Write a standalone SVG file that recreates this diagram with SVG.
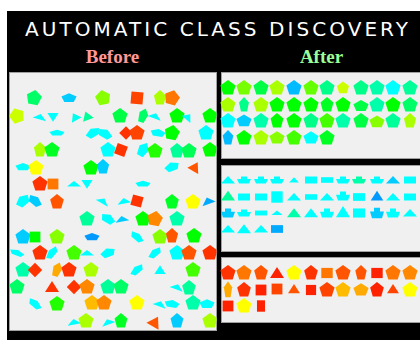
<svg xmlns="http://www.w3.org/2000/svg" xmlns:xlink="http://www.w3.org/1999/xlink" width="420" height="340" viewBox="0 0 420 340">
<style>
.title{font-family:"DejaVu Sans","Liberation Sans",sans-serif;font-size:20px;fill:#ffffff}
.sub{font-family:"Liberation Serif","DejaVu Serif",serif;font-size:19px;font-weight:bold}
.panel{fill:#f0f0f0;stroke:#a0a0a0;stroke-width:1}
</style>
<defs>
<path id="p" d="M0,-8 L7.6,-2.5 L4.7,6.5 L-4.7,6.5 L-7.6,-2.5 Z"/>
<path id="t" d="M0,-6 L7,5 L-7,5 Z"/>
<rect id="s" x="-6" y="-6" width="12" height="12"/>
<rect id="r" x="-6" y="-3.5" width="12" height="7"/>
<path id="b" d="M-7,-1 L-3,-1 L-3,-3.5 L3,-3.5 L3,-1 L7,-1 L5,3.5 L-5,3.5 Z"/>
<path id="ft" d="M0,-4 L7,3.5 L-7,3.5 Z"/>
<clipPath id="lc"><rect x="9.5" y="72.5" width="207" height="258"/></clipPath>
</defs>
<rect x="0" y="0" width="420" height="340" fill="#ffffff"/>
<rect x="7" y="11" width="413" height="329" fill="#000000"/>
<text class="title" x="25" y="36" textLength="383" lengthAdjust="spacing">AUTOMATIC CLASS DISCOVERY</text>
<text class="sub" x="112.5" y="63" text-anchor="middle" fill="#ff9999">Before</text>
<text class="sub" x="321.5" y="63" text-anchor="middle" fill="#99ff99">After</text>

<g id="before">
<rect class="panel" x="9.5" y="72.5" width="207" height="258"/>
<g clip-path="url(#lc)">
<use href="#p" transform="translate(34,98) rotate(10)" fill="#00ff66"/>
<use href="#p" transform="translate(69,98) scale(1,0.6)" fill="#00ccff"/>
<use href="#p" transform="translate(103,98) rotate(-10)" fill="#88ff00"/>
<use href="#s" transform="translate(137,98) rotate(5)" fill="#ff4400"/>
<use href="#p" transform="translate(160,98) scale(0.8,1)" fill="#aaff00"/>
<use href="#p" transform="translate(172,98) rotate(15)" fill="#ff7700"/>
<use href="#p" transform="translate(17,116) rotate(-20)" fill="#ccff00"/>
<use href="#t" transform="translate(40,117) rotate(15) scale(1,0.5)" fill="#00ffff"/>
<use href="#t" transform="translate(53,117) rotate(180) scale(0.8)" fill="#00ffff"/>
<use href="#t" transform="translate(75,117) rotate(-30) scale(0.8,0.7)" fill="#00ffee"/>
<use href="#t" transform="translate(87,116) rotate(-20) scale(0.8)" fill="#00ff99"/>
<use href="#p" transform="translate(120,116)" fill="#00ff44"/>
<use href="#p" transform="translate(143,116) rotate(20) scale(0.6,1)" fill="#00ff66"/>
<use href="#t" transform="translate(155,116) rotate(20) scale(1,0.5)" fill="#00ffff"/>
<use href="#p" transform="translate(177,116)" fill="#00ff00"/>
<use href="#t" transform="translate(188,117) rotate(40) scale(0.8,0.6)" fill="#00ffff"/>
<use href="#p" transform="translate(210,116)" fill="#00ff00"/>
<use href="#p" transform="translate(57,133) scale(1,0.4)" fill="#00ffff"/>
<use href="#p" transform="translate(93,133) rotate(-30) scale(1,0.6)" fill="#00ffff"/>
<use href="#p" transform="translate(105,134) rotate(30) scale(1,0.6)" fill="#00ffff"/>
<use href="#s" transform="translate(126,133) rotate(45) scale(0.8)" fill="#ff3300"/>
<use href="#p" transform="translate(137,133)" fill="#ff4400"/>
<use href="#p" transform="translate(158,133) rotate(10) scale(1,0.5)" fill="#00ffff"/>
<use href="#p" transform="translate(172,133) rotate(10)" fill="#00ff00"/>
<use href="#p" transform="translate(206,133)" fill="#00ffff"/>
<use href="#p" transform="translate(40,150) scale(0.8,1)" fill="#aaff00"/>
<use href="#p" transform="translate(52,150)" fill="#00ff22"/>
<use href="#p" transform="translate(108,150)" fill="#00ffff"/>
<use href="#s" transform="translate(121,150) rotate(20) scale(0.9)" fill="#ff3300"/>
<use href="#p" transform="translate(143,150) rotate(30) scale(0.7,1)" fill="#00ffff"/>
<use href="#p" transform="translate(155,151)" fill="#22ff00"/>
<use href="#p" transform="translate(177,151) scale(0.9,1)" fill="#00ff99"/>
<use href="#p" transform="translate(189,151)" fill="#00ff55"/>
<use href="#p" transform="translate(210,150)" fill="#00ff00"/>
<use href="#p" transform="translate(23,167) scale(1,0.5)" fill="#00ffff"/>
<use href="#p" transform="translate(36,168)" fill="#ffff00"/>
<use href="#p" transform="translate(91,168)" fill="#00ff00"/>
<use href="#p" transform="translate(103,167) scale(0.8,1)" fill="#00ccff"/>
<use href="#p" transform="translate(172,167) rotate(-20) scale(1,0.6)" fill="#00ffff"/>
<use href="#t" transform="translate(195,167) rotate(30) scale(0.9)" fill="#ff5500"/>
<use href="#p" transform="translate(40,184)" fill="#ff3300"/>
<use href="#s" transform="translate(53,184) scale(0.9)" fill="#ff7700"/>
<use href="#t" transform="translate(74,184) scale(1,0.5)" fill="#00ffff"/>
<use href="#t" transform="translate(87,184) rotate(180) scale(0.8)" fill="#00ffff"/>
<use href="#p" transform="translate(143,184) scale(1,0.4)" fill="#00ffff"/>
<use href="#p" transform="translate(23,201) rotate(-40) scale(1,0.7)" fill="#00ffff"/>
<use href="#p" transform="translate(35,201) rotate(40) scale(1,0.6)" fill="#00ccff"/>
<use href="#p" transform="translate(57,202) scale(0.9,1)" fill="#ff5500"/>
<use href="#t" transform="translate(103,201) rotate(30) scale(1,0.5)" fill="#00ffff"/>
<use href="#t" transform="translate(124,201) rotate(-10) scale(1,0.5)" fill="#00ffff"/>
<use href="#s" transform="translate(137,201) rotate(15) scale(0.9)" fill="#ff3300"/>
<use href="#p" transform="translate(172,202) scale(0.9,1)" fill="#00ff22"/>
<use href="#p" transform="translate(193,202)" fill="#ffff00"/>
<use href="#t" transform="translate(208,201) rotate(-20) scale(1,0.6)" fill="#00aaff"/>
<use href="#p" transform="translate(87,219)" fill="#00ff99"/>
<use href="#p" transform="translate(108,219) rotate(30) scale(1,0.6)" fill="#00ffff"/>
<use href="#t" transform="translate(122,219) rotate(-10) scale(1,0.5)" fill="#00ccff"/>
<use href="#p" transform="translate(143,219)" fill="#00ff00"/>
<use href="#p" transform="translate(155,219) rotate(10)" fill="#ff8800"/>
<use href="#p" transform="translate(177,219)" fill="#00ffaa"/>
<use href="#p" transform="translate(23,237)" fill="#00ccff"/>
<use href="#s" transform="translate(35,237) scale(0.9)" fill="#00ff00"/>
<use href="#p" transform="translate(57,237)" fill="#88ff00"/>
<use href="#p" transform="translate(92,237) scale(1,0.5)" fill="#0099ff"/>
<use href="#p" transform="translate(137,237) rotate(40) scale(1,0.5)" fill="#00ffff"/>
<use href="#p" transform="translate(160,237)" fill="#88ff00"/>
<use href="#p" transform="translate(172,236) scale(0.8,1)" fill="#ff5500"/>
<use href="#p" transform="translate(194,236)" fill="#00ff00"/>
<use href="#p" transform="translate(17,253) rotate(20) scale(1,0.4)" fill="#00ffff"/>
<use href="#p" transform="translate(40,253)" fill="#ff3300"/>
<use href="#p" transform="translate(52,253) rotate(-50) scale(1,0.5)" fill="#00ffff"/>
<use href="#p" transform="translate(74,253)" fill="#44ff00"/>
<use href="#t" transform="translate(87,253) scale(1,0.5)" fill="#00ffff"/>
<use href="#p" transform="translate(108,253) rotate(-20) scale(1,0.6)" fill="#00ffff"/>
<use href="#p" transform="translate(155,253) rotate(-40) scale(1,0.5)" fill="#00ffff"/>
<use href="#p" transform="translate(177,253)" fill="#00ffff"/>
<use href="#p" transform="translate(189,253)" fill="#ff5500"/>
<use href="#p" transform="translate(210,253)" fill="#ff3300"/>
<use href="#p" transform="translate(23,270)" fill="#00ffaa"/>
<use href="#s" transform="translate(35,270) rotate(45) scale(0.85)" fill="#ff3300"/>
<use href="#p" transform="translate(57,270) rotate(20) scale(0.6,1)" fill="#ffaa00"/>
<use href="#p" transform="translate(69,270)" fill="#ff3300"/>
<use href="#p" transform="translate(91,270)" fill="#aaff00"/>
<use href="#p" transform="translate(137,270) rotate(-40) scale(1,0.5)" fill="#00ffff"/>
<use href="#t" transform="translate(160,270) scale(0.8)" fill="#00ffff"/>
<use href="#p" transform="translate(193,270)" fill="#44ff00"/>
<use href="#p" transform="translate(17,287)" fill="#00ff66"/>
<use href="#t" transform="translate(52,287)" fill="#ff3300"/>
<use href="#s" transform="translate(74,287) rotate(45) scale(0.85)" fill="#ff3300"/>
<use href="#p" transform="translate(87,287)" fill="#ff8800"/>
<use href="#p" transform="translate(108,287)" fill="#00ff99"/>
<use href="#p" transform="translate(121,287)" fill="#00ff66"/>
<use href="#t" transform="translate(177,287) rotate(20) scale(1,0.5)" fill="#00ffff"/>
<use href="#p" transform="translate(189,288) scale(0.9,1)" fill="#00ff99"/>
<use href="#p" transform="translate(35,304) rotate(40) scale(1,0.5)" fill="#00ffff"/>
<use href="#p" transform="translate(57,304)" fill="#22ff00"/>
<use href="#p" transform="translate(92,303)" fill="#ffbb00"/>
<use href="#p" transform="translate(104,303)" fill="#ff8800"/>
<use href="#p" transform="translate(137,303)" fill="#ffff00"/>
<use href="#t" transform="translate(160,304) rotate(20) scale(1,0.5)" fill="#00ffff"/>
<use href="#p" transform="translate(172,304) rotate(10) scale(1,0.5)" fill="#00ffff"/>
<use href="#p" transform="translate(193,303)" fill="#00ffaa"/>
<use href="#p" transform="translate(207,304) scale(1,0.6)" fill="#00ffff"/>
<use href="#t" transform="translate(74,322) rotate(-10) scale(1,0.5)" fill="#00ffff"/>
<use href="#p" transform="translate(86,321)" fill="#aaff00"/>
<use href="#t" transform="translate(108,322) rotate(-20) scale(1,0.5)" fill="#00ffff"/>
<use href="#p" transform="translate(121,321) scale(0.85,1)" fill="#00ff22"/>
<use href="#t" transform="translate(155,322) rotate(30)" fill="#ff5500"/>
<use href="#p" transform="translate(177,321) scale(0.85,1)" fill="#00ccff"/>
<use href="#p" transform="translate(210,321)" fill="#aaff00"/>
</g>
</g>

<g id="class-green">
<rect class="panel" x="221.5" y="72.5" width="199" height="86"/>
<use href="#p" x="228" y="88" fill="#00ff00"/>
<use href="#p" x="244" y="88" fill="#77ff00"/>
<use href="#p" x="261" y="88" fill="#00ff44"/>
<use href="#p" x="277" y="88" fill="#aaff00"/>
<use href="#p" x="294" y="88" fill="#00bbff"/>
<use href="#p" x="311" y="88" fill="#66ff00"/>
<use href="#p" x="327" y="88" fill="#00ff88"/>
<use href="#p" transform="translate(343,88) scale(0.8)" fill="#ccff00"/>
<use href="#p" x="361" y="88" fill="#00ff88"/>
<use href="#p" x="377" y="88" fill="#00ffaa"/>
<use href="#p" x="393" y="88" fill="#00ffff"/>
<use href="#p" x="410" y="88" fill="#00ff99"/>
<use href="#p" x="228" y="105" fill="#aaff00"/>
<use href="#p" transform="translate(244,105) scale(0.65,1)" fill="#00ff88"/>
<use href="#p" x="261" y="105" fill="#aaff00"/>
<use href="#p" x="277" y="105" fill="#00ff00"/>
<use href="#p" x="294" y="105" fill="#00ff00"/>
<use href="#p" x="311" y="105" fill="#00ff00"/>
<use href="#p" transform="translate(327,105) scale(0.85,1)" fill="#00ff22"/>
<use href="#p" x="343" y="105" fill="#00ff00"/>
<use href="#p" transform="translate(361,106) scale(1,0.75)" fill="#00ff44"/>
<use href="#p" x="377" y="105" fill="#00ffaa"/>
<use href="#p" x="393" y="105" fill="#00ff00"/>
<use href="#p" x="410" y="105" fill="#00ff66"/>
<use href="#p" x="228" y="121" fill="#00ffff"/>
<use href="#p" transform="translate(244,121) scale(1,0.8)" fill="#00ccff"/>
<use href="#p" x="261" y="121" fill="#00ffaa"/>
<use href="#p" transform="translate(277,121) scale(0.85,1)" fill="#00ff00"/>
<use href="#p" x="294" y="121" fill="#00ff00"/>
<use href="#p" x="311" y="121" fill="#00ff88"/>
<use href="#p" x="327" y="121" fill="#44ff00"/>
<use href="#p" x="343" y="121" fill="#00ffaa"/>
<use href="#p" x="361" y="121" fill="#00ff44"/>
<use href="#p" transform="translate(377,122) scale(1,0.8)" fill="#88ff00"/>
<use href="#p" x="393" y="121" fill="#00ff99"/>
<use href="#p" transform="translate(410,121) scale(0.8,1)" fill="#aaff00"/>
<use href="#p" transform="translate(228,138) scale(0.7,1)" fill="#00bbff"/>
<use href="#p" x="244" y="138" fill="#00ff00"/>
<use href="#p" x="261" y="138" fill="#aaff00"/>
<use href="#p" transform="translate(277,138) scale(1,0.85)" fill="#88ff00"/>
<use href="#p" x="294" y="138" fill="#44ff00"/>
<use href="#p" transform="translate(311,138) scale(1,0.85)" fill="#00ffff"/>
<use href="#p" x="327" y="138" fill="#00ff22"/>
</g>

<g id="class-cyan">
<rect class="panel" x="221.5" y="165.5" width="199" height="86"/>
<use href="#ft" x="228" y="180" fill="#00ffff"/>
<use href="#b" x="244" y="180" fill="#00ffff"/>
<use href="#b" x="261" y="180" fill="#00ffff"/>
<use href="#b" x="277" y="180" fill="#00ffff"/>
<use href="#ft" transform="translate(294,180) scale(0.7)" fill="#00ffff"/>
<use href="#r" x="311" y="180" fill="#00ffff"/>
<use href="#r" transform="translate(327,180) scale(1,0.8)" fill="#00ffff"/>
<use href="#b" x="343" y="180" fill="#00ffff"/>
<use href="#b" x="359" y="180" fill="#00ffaa"/>
<use href="#b" x="377" y="180" fill="#00ffff"/>
<use href="#ft" x="393" y="180" fill="#00ccff"/>
<use href="#r" x="410" y="180" fill="#00ffff"/>
<use href="#ft" transform="translate(228,196) scale(1,1.3)" fill="#00ff99"/>
<use href="#r" x="244" y="197" fill="#00ffff"/>
<use href="#r" x="261" y="197" fill="#00ffff"/>
<use href="#s" transform="translate(277,197) scale(0.95)" fill="#00ffff"/>
<use href="#ft" x="294" y="197" fill="#00ffff"/>
<use href="#r" transform="translate(311,197) scale(1,0.8)" fill="#00ffff"/>
<use href="#ft" x="327" y="197" fill="#00ffff"/>
<use href="#b" transform="translate(343,196) scale(1,1.3)" fill="#00ffff"/>
<use href="#r" transform="translate(359,197) scale(1,1.1)" fill="#00ffff"/>
<use href="#ft" transform="translate(377,196) scale(0.9,1.3)" fill="#0099ff"/>
<use href="#ft" x="393" y="197" fill="#00ffff"/>
<use href="#r" x="410" y="197" fill="#00ffff"/>
<use href="#b" transform="translate(228,213) scale(1,1.3)" fill="#00ccff"/>
<use href="#b" x="244" y="213" fill="#00ffff"/>
<use href="#r" transform="translate(261,213) scale(1,0.7)" fill="#00ffff"/>
<use href="#ft" transform="translate(277,213) scale(0.8,0.6)" fill="#00ffff"/>
<use href="#ft" transform="translate(294,213) scale(1,1.2)" fill="#00ffaa"/>
<use href="#ft" transform="translate(311,213) scale(1,1.2)" fill="#00ffff"/>
<use href="#b" transform="translate(327,213) scale(1,1.3)" fill="#00ffff"/>
<use href="#ft" transform="translate(343,212) scale(1,1.5)" fill="#00ffff"/>
<use href="#r" transform="translate(359,213) scale(1,1.3)" fill="#00ffff"/>
<use href="#b" transform="translate(377,213) scale(1,1.5)" fill="#00ccff"/>
<use href="#b" transform="translate(393,213) scale(1,1.3)" fill="#00ffff"/>
<use href="#ft" x="410" y="213" fill="#00ffff"/>
<use href="#ft" x="228" y="229" fill="#00ffff"/>
<use href="#ft" transform="translate(244,229) scale(1,1.2)" fill="#00ffff"/>
<use href="#ft" x="261" y="229" fill="#00ffff"/>
<use href="#r" transform="translate(277,229) scale(1,1.1)" fill="#00aaff"/>
</g>

<g id="class-red">
<rect class="panel" x="221.5" y="257.5" width="199" height="65"/>
<use href="#p" x="228" y="273" fill="#ff3300"/>
<use href="#p" x="244" y="273" fill="#ff7700"/>
<use href="#p" transform="translate(261,273) scale(0.9,1)" fill="#ff5500"/>
<use href="#t" x="277" y="273" fill="#ff2200"/>
<use href="#p" x="294" y="273" fill="#ffff00"/>
<use href="#p" transform="translate(311,273) scale(0.9,1)" fill="#ff3300"/>
<use href="#s" transform="translate(327,273) scale(0.95,0.85)" fill="#ff7700"/>
<use href="#p" x="343" y="273" fill="#ff5500"/>
<use href="#p" transform="translate(361,273) scale(0.75,1)" fill="#ff5500"/>
<use href="#s" transform="translate(377,273) scale(0.95,0.85)" fill="#ff2200"/>
<use href="#p" x="393" y="273" fill="#ff7700"/>
<use href="#p" x="410" y="273" fill="#ff8800"/>
<use href="#p" transform="translate(228,290) scale(0.55,1.1)" fill="#ffaa00"/>
<use href="#p" transform="translate(244,290) scale(0.9,1)" fill="#ff3300"/>
<use href="#s" transform="translate(261,290) scale(0.9)" fill="#ff2200"/>
<use href="#s" transform="translate(277,289) scale(0.9)" fill="#ff4400"/>
<use href="#t" transform="translate(294,289) scale(0.85,0.85)" fill="#ff5500"/>
<use href="#s" transform="translate(311,290) scale(0.85)" fill="#ff2200"/>
<use href="#p" x="327" y="290" fill="#ff4400"/>
<use href="#p" x="343" y="290" fill="#ffbb00"/>
<use href="#p" transform="translate(361,290) scale(1,0.85)" fill="#ffaa00"/>
<use href="#p" transform="translate(377,290) scale(0.9,1)" fill="#ff2200"/>
<use href="#t" transform="translate(393,289) scale(0.85,0.85)" fill="#ff4400"/>
<use href="#p" x="410" y="290" fill="#ffff00"/>
<use href="#s" transform="translate(228,306) scale(0.9)" fill="#ff2200"/>
<use href="#p" x="244" y="306" fill="#ffff00"/>
<use href="#r" transform="translate(261,306) rotate(90) scale(0.95,1.15)" fill="#ff2200"/>
</g>
</svg>
